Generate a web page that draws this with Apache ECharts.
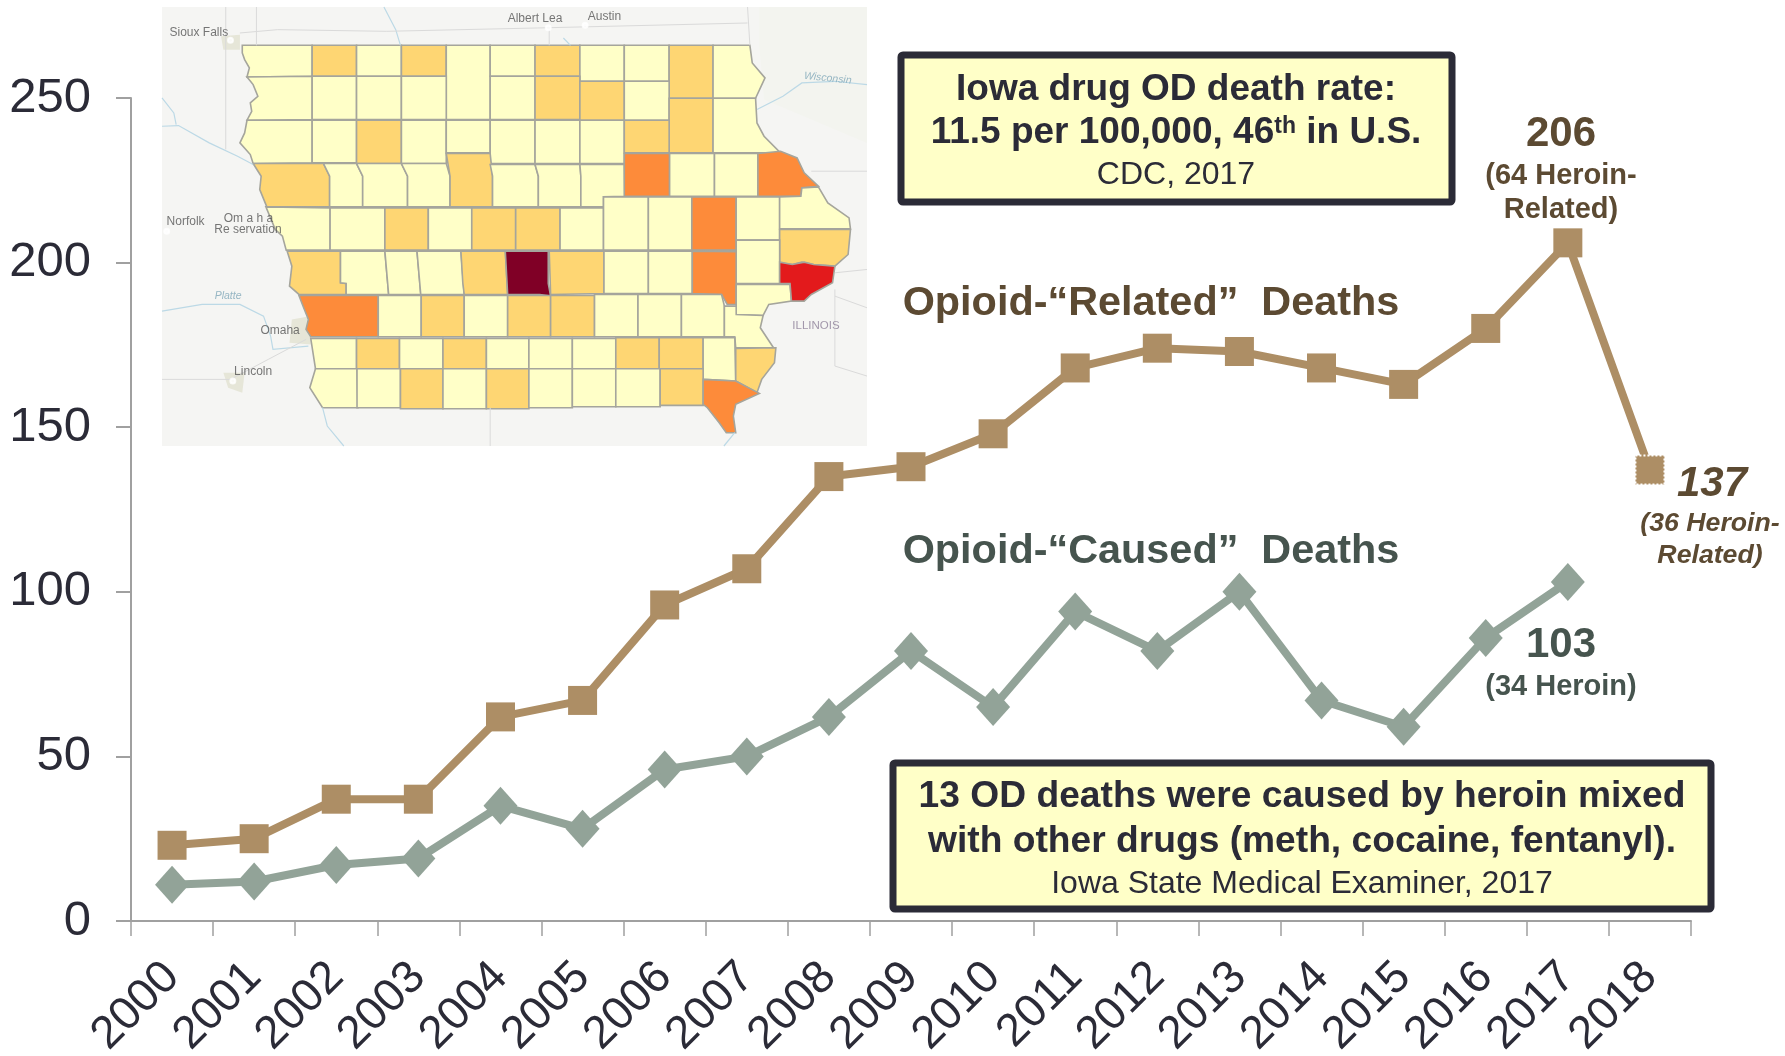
<!DOCTYPE html>
<html><head><meta charset="utf-8">
<style>html,body{margin:0;padding:0;background:#fff}#c{width:1785px;height:1056px}</style>
<script src="https://cdn.jsdelivr.net/npm/echarts@6/dist/echarts.min.js"></script>
</head><body><div id="c"></div>
<script>
const years=['2000','2001','2002','2003','2004','2005','2006','2007','2008','2009','2010','2011','2012','2013','2014','2015','2016','2017','2018'];
const relatedDeaths=[23,25,37,37,62,67,96,107,135,138,148,168,174,173,168,163,180,206,137];
const causedDeaths=[11,12,17,19,35,28,46,50,62,82,65,94,82,100,67,59,86,103,null];
const yTicks={min:0,max:250,interval:50};
const classColors=['#ffffc8','#fed673','#fd8b3a','#e31a1c','#800026'];
// county outline in the inset's own units: [name, rate class, rect or polygon]
const counties=[
['Lyon',0,[195,137,343,137,343,230,205,232,210,205,200,180,195,160]],['Osceola',1,[343,137,437,230]],['Dickinson',0,[437,137,532,230]],['Emmet',1,[532,137,627,230]],['Kossuth',0,[627,137,720,360]],['Winnebago',0,[720,137,815,230]],['Worth',1,[815,137,910,230]],['Mitchell',0,[910,137,1004,245]],['Howard',0,[1004,137,1099,245]],['Winneshiek',1,[1099,137,1192,296]],['Allamakee',0,[1192,137,1270,137,1275,190,1302,235,1282,296,1192,296]],
['Sioux',0,[205,232,343,230,343,360,205,362,215,335,212,310,228,290,218,255]],['OBrien',0,[343,230,437,360]],['Clay',0,[437,230,532,360]],['Palo Alto',0,[532,230,627,360]],['Hancock',0,[720,230,815,360]],['Cerro Gordo',1,[815,230,910,360]],['Floyd',1,[910,245,1004,362]],['Chickasaw',0,[1004,245,1099,362]],['Fayette',1,[1099,296,1192,460]],['Clayton',0,[1192,296,1282,296,1285,370,1300,410,1335,460,1192,460]],
['Plymouth',0,[205,362,343,362,343,490,218,492,212,465,190,430,200,400]],['Cherokee',0,[343,362,437,490]],['Buena Vista',1,[437,362,532,492]],['Pocahontas',0,[532,362,627,492]],['Humboldt',0,[627,362,720,460]],['Wright',0,[720,362,815,492]],['Franklin',0,[815,362,910,492]],['Butler',0,[910,362,1004,492]],['Bremer',1,[1004,362,1099,460]],
['Woodbury',1,[218,492,367,492,380,530,380,622,247,622,232,570,235,530]],['Ida',0,[367,492,437,492,450,530,450,622,380,622,380,530]],['Sac',0,[437,492,532,492,545,530,545,622,450,622,450,530]],['Calhoun',0,[532,492,627,492,635,530,635,622,545,622,545,530]],['Webster',1,[627,462,720,462,725,530,725,622,635,622,635,530]],['Hamilton',0,[720,495,815,495,822,530,822,622,725,622,725,530]],['Hardin',0,[815,495,910,495,912,530,912,622,822,622,822,530]],['Grundy',0,[910,495,1004,495,1005,590,960,592,960,622,912,622,912,530]],['Black Hawk',2,[1004,462,1100,590]],['Buchanan',0,[1100,462,1195,590]],['Delaware',0,[1195,462,1287,590]],['Dubuque',2,[1287,462,1335,455,1370,475,1385,520,1415,560,1380,565,1378,590,1287,590]],
['Monona',0,[245,622,381,625,381,752,288,752,280,710,265,690]],['Crawford',0,[381,625,497,752]],['Carroll',1,[497,625,589,752]],['Greene',0,[589,625,681,752]],['Boone',1,[681,625,774,752]],['Story',1,[774,625,868,752]],['Marshall',0,[868,625,960,752]],['Tama',0,[960,592,1055,752]],['Benton',0,[1055,592,1147,752]],['Linn',2,[1147,592,1241,752]],['Jones',0,[1241,592,1333,722]],['Jackson',0,[1333,592,1378,590,1380,565,1415,562,1435,610,1480,655,1483,688,1333,688]],
['Clinton',1,[1333,690,1483,690,1478,765,1450,800,1405,795,1380,788,1360,795,1333,790]],['Cedar',0,[1241,722,1333,852]],
['Harrison',1,[290,755,403,755,403,850,415,852,415,885,315,885,295,860,300,800]],['Shelby',0,[403,755,497,755,505,885,415,885,415,852,403,850]],['Audubon',0,[497,755,565,755,573,885,505,885]],['Guthrie',0,[565,755,658,755,665,885,573,885]],['Dallas',1,[658,755,752,755,757,885,665,885,662,850]],['Polk',4,[752,755,843,755,843,852,848,890,825,885,757,885]],['Jasper',1,[845,755,961,755,961,882,848,885]],['Poweshiek',0,[961,755,1055,882]],['Iowa',0,[1055,755,1148,882]],['Johnson',2,[1148,755,1241,757,1241,915,1222,915,1210,885,1148,882]],['Muscatine',0,[1241,855,1355,855,1358,905,1310,915,1298,948,1241,945]],['Scott',3,[1333,788,1360,795,1385,788,1405,795,1450,800,1445,850,1400,885,1385,905,1358,905,1355,852,1333,852]],
['Pottawattamie',2,[315,888,483,888,483,1012,340,1012,330,990,335,960,325,925]],['Cass',0,[483,888,574,1012]],['Adair',1,[574,888,665,1012]],['Madison',0,[665,888,757,1012]],['Warren',1,[757,888,848,1012]],['Marion',1,[848,888,941,1012]],['Mahaska',0,[941,885,1033,1012]],['Keokuk',0,[1033,885,1125,1012]],['Washington',0,[1125,885,1210,885,1216,920,1216,1012,1125,1012]],['Louisa',0,[1216,920,1241,920,1241,945,1298,948,1292,985,1320,1045,1240,1045,1238,1012,1216,1012]],
['Mills',0,[340,1017,437,1017,437,1108,350,1108]],['Montgomery',1,[437,1017,528,1108]],['Adams',0,[528,1017,620,1108]],['Union',1,[620,1017,712,1108]],['Clarke',0,[712,1017,802,1108]],['Lucas',0,[802,1017,894,1108]],['Monroe',0,[894,1017,986,1108]],['Wapello',1,[986,1015,1078,1108]],['Jefferson',1,[1078,1015,1171,1108]],['Henry',0,[1171,1015,1238,1015,1240,1145,1171,1140]],['Des Moines',1,[1240,1047,1325,1045,1322,1090,1295,1140,1285,1180,1240,1145]],
['Fremont',0,[350,1108,438,1108,440,1225,365,1225,338,1165]],['Page',0,[438,1108,530,1225]],['Taylor',1,[530,1108,620,1228]],['Ringgold',0,[620,1108,712,1228]],['Decatur',1,[712,1108,802,1228]],['Wayne',0,[802,1108,894,1225]],['Appanoose',0,[894,1108,986,1222]],['Davis',0,[986,1108,1080,1222]],['Van Buren',1,[1080,1108,1171,1218]],['Lee',2,[1171,1140,1240,1145,1290,1182,1240,1215,1235,1250,1240,1300,1220,1300,1205,1270,1180,1225,1171,1215]]
];
const rivers=[[25,295,50,340,55,375],[25,380,60,378,125,430,185,470,218,495],[25,935,110,915,190,915,240,950,255,1010,260,1050,335,1040],[495,22,520,90,530,137],[875,115,890,137],[1285,330,1340,290,1380,250,1450,245,1518,255],[1215,1340,1238,1300],[365,1225,375,1280,410,1340]];
const roads=[[225,22,225,137],[160,22,160,450],[25,1140,170,1140,250,1080,330,1020],[190,100,270,90,500,95,820,85,1265,70],[845,85,845,137],[1265,22,1270,137],[1400,515,1518,515],[1450,890,1518,925],[1450,820,1518,810],[1450,870,1450,1100,1518,1130],[720,1225,720,1340]];
const urbanAreas=[[150,110,190,105,190,150,155,150],[300,960,340,950,340,1035,295,1030],[155,1120,200,1120,195,1180,165,1165],[1290,22,1518,22,1518,430,1300,300,1290,140]];
const placeNames=[['Sioux Falls',103,98],['Albert Lea',815,58],['Austin',962,51],['Norfolk',75,666],['Om a h a',208,658],['Re servation',207,690],['Omaha',275,993],['Lincoln',218,1116]];
const waterNames=[['Platte',165,889,0],['Wisconsin',1435,236,-6]];
const regionNames=[['ILLINOIS',1410,978]];
const cityDots=[[170,122],[843,84],[921,77],[35,695],[175,1145]];

const toMap=(x,y)=>[x*0.472,-y/3];
const flat=a=>{const o=[];for(let i=0;i<a.length;i+=2)o.push(toMap(a[i],a[i+1]));return o};
const ring=p=>{const a=p.length===4?[p[0],p[1],p[2],p[1],p[2],p[3],p[0],p[3]]:p;const r=flat(a);r.push(r[0]);return r};
const feature=(name,p)=>({type:'Feature',properties:{name},geometry:{type:'Polygon',coordinates:[ring(p)]}});
const features=[feature('basemap',[25,22,1518,1340])];
urbanAreas.forEach((p,i)=>features.push(feature('urban'+i,p)));
counties.forEach(c=>features.push(feature(c[0],c[2])));
echarts.registerMap('iowa',{type:'FeatureCollection',features});
const regions=[{name:'basemap',itemStyle:{areaColor:'#f5f5f3',borderWidth:0}}];
urbanAreas.forEach((p,i)=>regions.push({name:'urban'+i,itemStyle:{areaColor:i===3?'#f3f4ef':'#e6e6d8',borderWidth:0}}));
counties.forEach(c=>regions.push({name:c[0],itemStyle:{areaColor:classColors[c[1]],borderColor:'#a5a59c',borderWidth:1.6}}));

const dark='#2b2b37',tan='#ad8e65',sage='#92a398',brown='#5c4a32',slate='#46544e',pale='#ffffc8';
const FONT='"Liberation Sans", Arial, sans-serif';
const txt=(text,x,y,size,fill,weight,style,extra)=>({type:'text',z:20,x,y,style:Object.assign({text,fill,textAlign:'center',textVerticalAlign:'middle',font:`${style||'normal'} ${weight||'normal'} ${size}px ${FONT}`},extra||{})});
const box=(x,y,w,h)=>({type:'rect',z:10,shape:{x,y,width:w,height:h,r:2},style:{fill:pale,stroke:dark,lineWidth:7}});

const chart=echarts.init(document.getElementById('c'),null,{renderer:'canvas'});
chart.setOption({
  animation:false,backgroundColor:'#fff',
  textStyle:{fontFamily:FONT},
  grid:{left:131,right:94,top:98,bottom:135,containLabel:false,outerBoundsMode:'none'},
  xAxis:{type:'category',data:years,boundaryGap:true,
    axisLine:{lineStyle:{color:'#a0a0a0',width:2}},
    axisTick:{show:true,length:15,interval:0,lineStyle:{color:'#a0a0a0',width:1.5}},
    axisLabel:{interval:0,rotate:45,margin:49,fontSize:46,color:dark,fontFamily:FONT}},
  yAxis:{type:'value',min:yTicks.min,max:yTicks.max,interval:yTicks.interval,
    axisLine:{show:true,lineStyle:{color:'#a0a0a0',width:2}},
    axisTick:{show:true,length:15,lineStyle:{color:'#a0a0a0',width:2}},
    splitLine:{show:false},
    axisLabel:{margin:40,fontSize:49,color:dark,fontFamily:FONT}},
  geo:{map:'iowa',roam:false,silent:true,aspectScale:1,left:162,top:7,width:705,height:439,
    itemStyle:{areaColor:'#f5f5f3',borderColor:'#a5a59c'},
    emphasis:{disabled:true},select:{disabled:true},label:{show:false},regions},
  series:[
    {name:'Rivers',type:'lines',coordinateSystem:'geo',polyline:true,silent:true,z:3,
      lineStyle:{color:'#bcd9e6',width:1.2,opacity:1},data:rivers.map(r=>({coords:flat(r)}))},
    {name:'Roads',type:'lines',coordinateSystem:'geo',polyline:true,silent:true,z:3,
      lineStyle:{color:'#dadada',width:1,opacity:1},data:roads.map(r=>({coords:flat(r)}))},
    {name:'Cities',type:'scatter',coordinateSystem:'geo',silent:true,z:4,symbol:'emptyCircle',symbolSize:5,
      itemStyle:{color:'#fff',borderColor:'#555',borderWidth:1},data:cityDots.map(d=>toMap(d[0],d[1]))},
    {name:'Places',type:'scatter',coordinateSystem:'geo',silent:true,z:4,symbolSize:0,
      label:{show:true,position:'inside',formatter:p=>p.name,fontSize:12,color:'#555',fontFamily:FONT},
      data:placeNames.map(p=>({name:p[0],value:toMap(p[1],p[2])}))},
    {name:'Water',type:'scatter',coordinateSystem:'geo',silent:true,z:4,symbolSize:0,
      data:waterNames.map(p=>({name:p[0],value:toMap(p[1],p[2]),label:{show:true,position:'inside',rotate:p[3],formatter:q=>q.name,fontSize:10.5,fontStyle:'italic',color:'#7ea6b8',fontFamily:FONT}}))},
    {name:'Regions',type:'scatter',coordinateSystem:'geo',silent:true,z:4,symbolSize:0,
      label:{show:true,position:'inside',formatter:p=>p.name,fontSize:11.5,color:'#8d8098',fontFamily:FONT},
      data:regionNames.map(p=>({name:p[0],value:toMap(p[1],p[2])}))},
    {name:'Opioid-Related Deaths',type:'line',z:6,data:relatedDeaths.map((v,i)=>i===relatedDeaths.length-1?{value:v,itemStyle:{color:tan,borderColor:'#fff',borderWidth:2,borderType:'dotted'}}:v),
      symbol:'rect',symbolSize:29,lineStyle:{color:tan,width:8},itemStyle:{color:tan}},
    {name:'Opioid-Caused Deaths',type:'line',z:6,data:causedDeaths,
      symbol:'diamond',symbolSize:[34,38],lineStyle:{color:sage,width:8},itemStyle:{color:sage}}
  ],
  graphic:[
    box(901,55,551,147),
    txt('Iowa drug OD death rate:',1176,90,37,dark,'bold'),
    {type:'text',z:20,x:1176,y:133,style:{text:'{a|11.5 per 100,000, 46}{s|th}{a| in U.S.}',textAlign:'center',textVerticalAlign:'middle',rich:{a:{fontSize:37,fontWeight:'bold',fontFamily:FONT,fill:dark},s:{fontSize:23,fontWeight:'bold',fontFamily:FONT,fill:dark,padding:[0,0,13,0]}}}},
    txt('CDC, 2017',1176,175,32,dark),
    box(893,763,818,146),
    txt('13 OD deaths were caused by heroin mixed',1302,797,37.2,dark,'bold'),
    txt('with other drugs (meth, cocaine, fentanyl).',1302,842,37.2,dark,'bold'),
    txt('Iowa State Medical Examiner, 2017',1302,884,32,dark),
    txt('Opioid-“Related”  Deaths',1151,304,41.4,brown,'bold'),
    txt('Opioid-“Caused”  Deaths',1151,552,41.4,slate,'bold'),
    txt('206',1561,134,42,brown,'bold'),
    txt('(64 Heroin-',1561,176,29,brown,'bold'),
    txt('Related)',1561,210,29,brown,'bold'),
    txt('137',1712,484,42,brown,'bold','italic'),
    txt('(36 Heroin-',1710,524,26.7,brown,'bold','italic'),
    txt('Related)',1710,556,26.7,brown,'bold','italic'),
    txt('103',1561,645,42,slate,'bold'),
    txt('(34 Heroin)',1561,687,29,slate,'bold')
  ]
});
</script></body></html>
